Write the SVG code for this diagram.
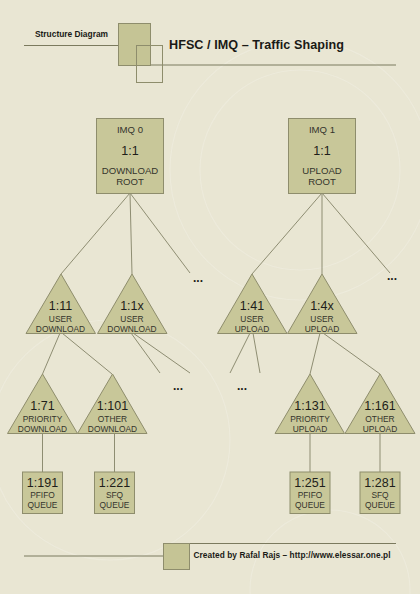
<svg xmlns="http://www.w3.org/2000/svg" width="420" height="594" viewBox="0 0 420 594">
<style>
.bg{fill:#e9e6d3}
.deco{fill:none;stroke:#f1efe3;stroke-width:1.2;opacity:.5}
.node{fill:#c8c799;stroke:#8e8d6c;stroke-width:1}
.hl{stroke:#7b7a5e;stroke-width:1;fill:none}
.con{stroke:#8e8d72;stroke-width:1;fill:none}
text{font-family:"Liberation Sans",Arial,sans-serif;text-anchor:middle;fill:#34342c}
.big{font-size:12.5px;fill:#1e1e1a}
.sm{font-size:8.4px}
.rt{font-size:9.6px}
.dots{font-size:12px;font-weight:bold;fill:#1e1e1a}
.hdr{font-weight:bold;fill:#1a1a16;text-anchor:start}
</style>
<rect class="bg" width="420" height="594"/>
<g id="decoration">
<circle class="deco" cx="300" cy="170" r="130"/>
<circle class="deco" cx="300" cy="170" r="100"/>
<circle class="deco" cx="110" cy="440" r="120"/>
<circle class="deco" cx="330" cy="590" r="80"/>
</g>
<g id="header">
<line class="hl" x1="24" y1="45.5" x2="137" y2="45.5"/>
<line class="hl" x1="150" y1="65" x2="396" y2="65"/>
<rect x="118.5" y="23.5" width="32" height="42" fill="#c5c495" stroke="#8e8d6c"/>
<rect x="136.5" y="45.5" width="26" height="37" fill="none" stroke="#8e8d6c"/>
<text class="hdr" x="35" y="37" font-size="8.4" textLength="73">Structure Diagram</text>
<text class="hdr" x="169" y="48.5" font-size="12.6" textLength="175">HFSC / IMQ – Traffic Shaping</text>
</g>
<g id="connectors">
<line class="con" x1="130" y1="193" x2="61" y2="274"/>
<line class="con" x1="130" y1="193" x2="132" y2="274"/>
<line class="con" x1="130" y1="193" x2="190" y2="273"/>
<line class="con" x1="322" y1="193" x2="252" y2="274"/>
<line class="con" x1="322" y1="193" x2="322" y2="274"/>
<line class="con" x1="322" y1="193" x2="390" y2="273"/>
<line class="con" x1="60" y1="333" x2="42.5" y2="374"/>
<line class="con" x1="62" y1="333" x2="112" y2="374"/>
<line class="con" x1="131" y1="333" x2="160" y2="373"/>
<line class="con" x1="133" y1="333" x2="190" y2="373"/>
<line class="con" x1="250" y1="333" x2="230" y2="373"/>
<line class="con" x1="253" y1="333" x2="260" y2="373"/>
<line class="con" x1="320" y1="333" x2="310" y2="374"/>
<line class="con" x1="323" y1="333" x2="380" y2="374"/>
<line class="con" x1="42.5" y1="433" x2="42.5" y2="472"/>
<line class="con" x1="114.5" y1="433" x2="114.5" y2="472"/>
<line class="con" x1="310" y1="433" x2="310" y2="472"/>
<line class="con" x1="380" y1="433" x2="380" y2="472"/>
</g>
<g id="dots">
<text class="dots" x="198" y="282">...</text>
<text class="dots" x="178" y="390">...</text>
<text class="dots" x="242" y="390">...</text>
<text class="dots" x="392" y="280">...</text>
</g>
<g id="imq0">
<rect class="node" x="96.5" y="118.5" width="67" height="75"/>
<text class="rt" x="130" y="132.5">IMQ 0</text>
<text class="big" x="130" y="154.5">1:1</text>
<text class="rt" x="130" y="173.5">DOWNLOAD</text>
<text class="rt" x="130" y="185">ROOT</text>
</g>
<g id="imq1">
<rect class="node" x="288.5" y="118.5" width="67" height="75"/>
<text class="rt" x="322" y="132.5">IMQ 1</text>
<text class="big" x="322" y="154.5">1:1</text>
<text class="rt" x="322" y="173.5">UPLOAD</text>
<text class="rt" x="322" y="185">ROOT</text>
</g>
<g id="n1_11">
<polygon class="node" points="61,274 26,333.5 95.5,333.5"/>
<text class="big" x="60.5" y="310">1:11</text>
<text class="sm" x="60.5" y="322">USER</text>
<text class="sm" x="60.5" y="332">DOWNLOAD</text>
</g>
<g id="n1_1x">
<polygon class="node" points="132,274 97.5,333.5 167,333.5"/>
<text class="big" x="132" y="310">1:1x</text>
<text class="sm" x="132" y="322">USER</text>
<text class="sm" x="132" y="332">DOWNLOAD</text>
</g>
<g id="n1_41">
<polygon class="node" points="252,274 217.5,333.5 287,333.5"/>
<text class="big" x="252" y="310">1:41</text>
<text class="sm" x="252" y="322">USER</text>
<text class="sm" x="252" y="332">UPLOAD</text>
</g>
<g id="n1_4x">
<polygon class="node" points="322,274 287.5,333.5 357,333.5"/>
<text class="big" x="322" y="310">1:4x</text>
<text class="sm" x="322" y="322">USER</text>
<text class="sm" x="322" y="332">UPLOAD</text>
</g>
<g id="n1_71">
<polygon class="node" points="42.5,374 7.5,433.5 77.5,433.5"/>
<text class="big" x="42.5" y="410">1:71</text>
<text class="sm" x="42.5" y="422">PRIORITY</text>
<text class="sm" x="42.5" y="432">DOWNLOAD</text>
</g>
<g id="n1_101">
<polygon class="node" points="112.5,374 77.5,433.5 147,433.5"/>
<text class="big" x="112.5" y="410">1:101</text>
<text class="sm" x="112.5" y="422">OTHER</text>
<text class="sm" x="112.5" y="432">DOWNLOAD</text>
</g>
<g id="n1_131">
<polygon class="node" points="310,374 275,433.5 344.5,433.5"/>
<text class="big" x="310" y="410">1:131</text>
<text class="sm" x="310" y="422">PRIORITY</text>
<text class="sm" x="310" y="432">UPLOAD</text>
</g>
<g id="n1_161">
<polygon class="node" points="380,374 345,433.5 415,433.5"/>
<text class="big" x="380" y="410">1:161</text>
<text class="sm" x="380" y="422">OTHER</text>
<text class="sm" x="380" y="432">UPLOAD</text>
</g>
<g id="n1_191">
<rect class="node" x="22.5" y="472" width="40" height="41.5"/>
<text class="big" x="42.5" y="487">1:191</text>
<text class="sm" x="42.5" y="497.5">PFIFO</text>
<text class="sm" x="42.5" y="508">QUEUE</text>
</g>
<g id="n1_221">
<rect class="node" x="94.5" y="472" width="40" height="41.5"/>
<text class="big" x="114.5" y="487">1:221</text>
<text class="sm" x="114.5" y="497.5">SFQ</text>
<text class="sm" x="114.5" y="508">QUEUE</text>
</g>
<g id="n1_251">
<rect class="node" x="290" y="472" width="40" height="41.5"/>
<text class="big" x="310" y="487">1:251</text>
<text class="sm" x="310" y="497.5">PFIFO</text>
<text class="sm" x="310" y="508">QUEUE</text>
</g>
<g id="n1_281">
<rect class="node" x="360" y="472" width="40" height="41.5"/>
<text class="big" x="380" y="487">1:281</text>
<text class="sm" x="380" y="497.5">SFQ</text>
<text class="sm" x="380" y="508">QUEUE</text>
</g>
<g id="footer">
<line class="hl" x1="24" y1="556" x2="164" y2="556"/>
<line class="hl" x1="189" y1="543.5" x2="396" y2="543.5"/>
<rect x="163.5" y="543.5" width="26" height="26" fill="#c5c495" stroke="#8e8d6c"/>
<text class="hdr" x="193.5" y="558" font-size="8.3" textLength="197">Created by Rafal Rajs – http://www.elessar.one.pl</text>
</g>
</svg>
